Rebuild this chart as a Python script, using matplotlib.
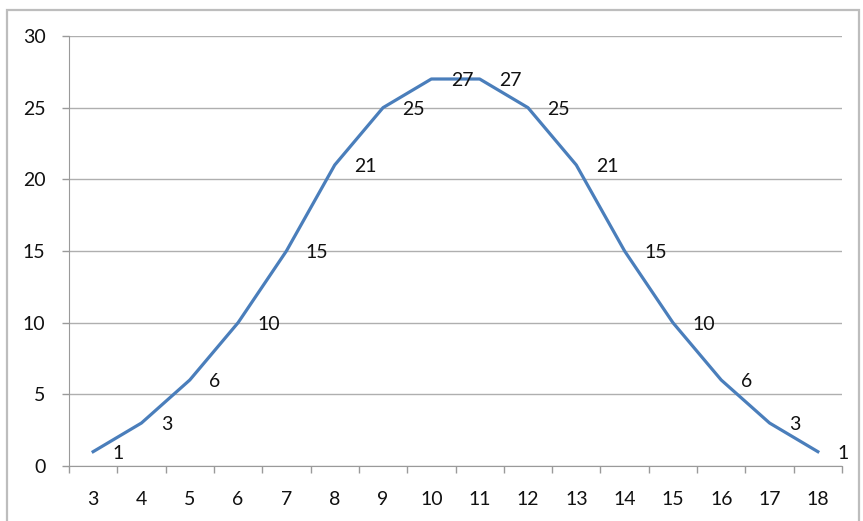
import matplotlib
matplotlib.use("Agg")
import matplotlib.pyplot as plt
from matplotlib.patches import Rectangle
from matplotlib.ticker import FixedLocator

categories = ["3", "4", "5", "6", "7", "8", "9", "10", "11", "12", "13", "14", "15", "16", "17", "18"]
values = [1, 3, 6, 10, 15, 21, 25, 27, 27, 25, 21, 15, 10, 6, 3, 1]
y_ticks = [0, 5, 10, 15, 20, 25, 30]

plt.rcParams['font.family'] = ['Lato', 'DejaVu Sans']

W, H = 863, 521
fig = plt.figure(figsize=(W / 100, H / 100), dpi=100)
fig.patch.set_facecolor("white")

# outer chart frame
fig.add_artist(Rectangle((7 / W, -0.02), (859 - 7) / W, (H - 10) / H + 0.02,
                         transform=fig.transFigure, fill=False,
                         edgecolor="#BDBDBD", linewidth=1.6))

ax = fig.add_axes([69 / W, 1 - 466 / H, (842 - 69) / W, (466 - 36) / H])
x = list(range(len(categories)))
ax.plot(x, values, color="#4A7EBB", linewidth=2.3, solid_joinstyle="round")

for xi, v in zip(x, values):
    ax.annotate(str(v), (xi, v), xytext=(14, -1), textcoords="offset points",
                ha="left", va="center", fontsize=14, color="#111111")

ax.set_xlim(-0.5, len(categories) - 0.5)
ax.set_ylim(0, 30)
ax.set_yticks(y_ticks)
ax.set_yticklabels([str(t) for t in y_ticks])
ax.set_xticks(x)
ax.set_xticklabels(categories)
ax.xaxis.set_minor_locator(FixedLocator([i - 0.5 for i in range(len(categories) + 1)]))

ax.tick_params(axis="x", which="major", length=0, pad=18, labelsize=14, labelcolor="#111111")
ax.tick_params(axis="x", which="minor", length=5, width=1, color="#9a9a9a", direction="out")
ax.tick_params(axis="y", which="major", length=5, width=1, color="#9a9a9a", pad=12,
               labelsize=14, labelcolor="#111111")

ax.grid(axis="y", color="#AFAFAF", linewidth=1)
ax.set_axisbelow(True)
for s in ["top", "right"]:
    ax.spines[s].set_visible(False)
ax.spines["left"].set_color("#9a9a9a")
ax.spines["bottom"].set_color("#9a9a9a")

fig.savefig("out.png", dpi=100)
